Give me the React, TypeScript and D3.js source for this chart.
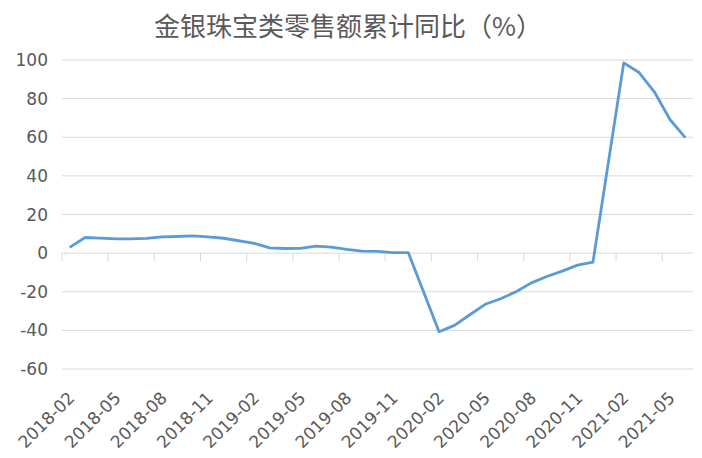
import React from "react";
import * as d3 from "d3";

const categories: string[] = [
  "2018-02", "2018-03", "2018-04", "2018-05", "2018-06", "2018-07", "2018-08", "2018-09", "2018-10", "2018-11", "2018-12",
  "2019-01", "2019-02", "2019-03", "2019-04", "2019-05", "2019-06", "2019-07", "2019-08", "2019-09", "2019-10", "2019-11", "2019-12",
  "2020-01", "2020-02", "2020-03", "2020-04", "2020-05", "2020-06", "2020-07", "2020-08", "2020-09", "2020-10", "2020-11", "2020-12",
  "2021-01", "2021-02", "2021-03", "2021-04", "2021-05", "2021-06",
];

const values: (number | null)[] = [
  3.0, 8.1, 7.8, 7.4, 7.4, 7.6, 8.4, 8.6, 8.9, 8.4, 7.7,
  null, 5.0, 2.7, 2.4, 2.5, 3.6, 3.1, 1.9, 1.0, 0.9, 0.3, 0.3,
  null, -40.7, -37.4, -31.9, -26.5, -23.6, -20.0, -15.4, -12.1, -9.3, -6.2, -4.7,
  null, 98.5, 93.5, 83.4, 69.2, 59.8,
];

const yTicks: number[] = [-60, -40, -20, 0, 20, 40, 60, 80, 100];
const title = "金银珠宝类零售额累计同比（%）";

const W = 702;
const H = 458;
const left = 62;
const right = 693;
const top = 60;
const bottom = 369;

export default function App() {
  const x = d3.scaleBand<string>().domain(categories).range([left, right]).padding(0);
  const y = d3.scaleLinear().domain([-60, 100]).range([bottom, top]);
  const pts = categories
    .map((c, i) => ({ c, v: values[i] }))
    .filter((d) => d.v !== null) as { c: string; v: number }[];
  const line = d3
    .line<{ c: string; v: number }>()
    .x((d) => (x(d.c) as number) + x.bandwidth() / 2)
    .y((d) => y(d.v));
  const bw = x.bandwidth();
  const tickIdx = d3.range(0, categories.length + 1, 3);
  const labelIdx = d3.range(0, categories.length, 3);
  const grey = "#595959";
  return (
    <svg
      width={W}
      height={H}
      style={{ position: "absolute", left: 0, top: 0, background: "#fff" }}
      fontFamily="'DejaVu Sans', sans-serif"
    >
      <text
        x={348}
        y={36}
        textAnchor="middle"
        fontSize={26}
        fill={grey}
        fontFamily="'Noto Sans CJK SC', sans-serif"
      >
        {title}
      </text>
      {yTicks.map((t) => (
        <g key={t}>
          <line x1={left} x2={right} y1={y(t)} y2={y(t)} stroke="#d9d9d9" strokeWidth={1} />
          <text x={48} y={y(t)} dy="0.36em" textAnchor="end" fontSize={17} fill={grey}>
            {t}
          </text>
        </g>
      ))}
      {tickIdx.map((i) => {
        const xx = left + i * bw;
        return <line key={i} x1={xx} x2={xx} y1={y(0)} y2={y(0) + 8} stroke="#d9d9d9" strokeWidth={1} />;
      })}
      {labelIdx.map((i) => {
        const cx = (x(categories[i]) as number) + bw / 2;
        return (
          <text
            key={i}
            transform={`translate(${cx + 6},${399}) rotate(-45)`}
            textAnchor="end"
            fontSize={17}
            fill={grey}
          >
            {categories[i]}
          </text>
        );
      })}
      <path d={line(pts) || ""} fill="none" stroke="#5b9bd5" strokeWidth={2.8} strokeLinejoin="round" />
    </svg>
  );
}
